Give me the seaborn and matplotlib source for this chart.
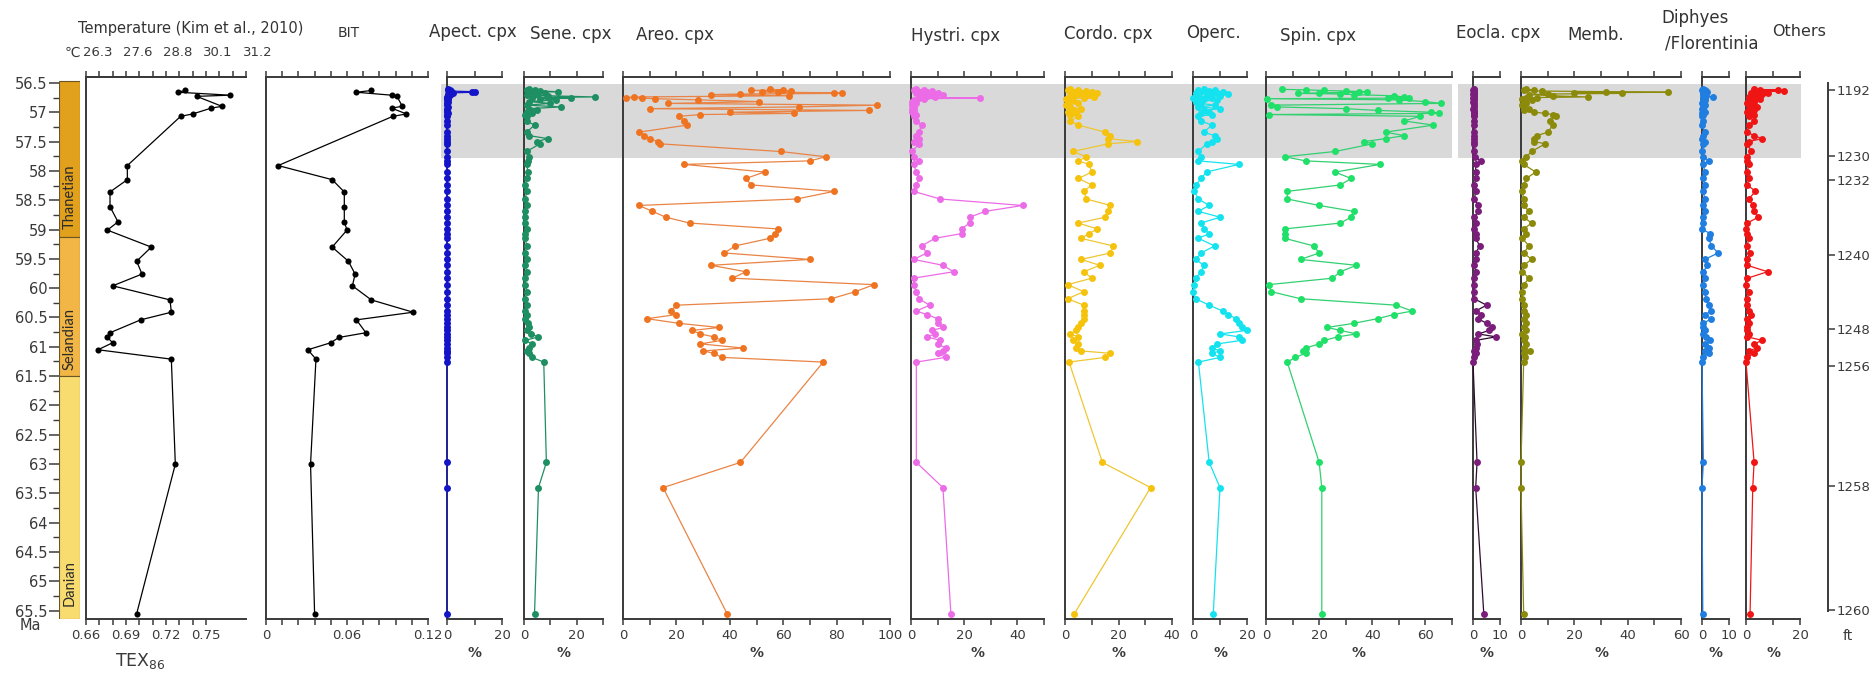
import matplotlib
matplotlib.use("Agg")
import matplotlib.pyplot as plt
import seaborn as sns
from matplotlib.patches import Rectangle
from matplotlib.transforms import blended_transform_factory
from matplotlib.ticker import FixedLocator, MultipleLocator, FuncFormatter, NullFormatter

sns.set_theme(style="ticks")
plt.rcParams["font.family"] = ["DejaVu Sans"]

# ---------------- data ----------------
# GDGT samples (age in Ma)
gdgt_age = [56.63, 56.66, 56.71, 56.73, 56.90, 56.93, 57.03, 57.07, 57.91, 58.15,
            58.36, 58.61, 58.87, 59.01, 59.30, 59.54, 59.76, 59.96, 60.20, 60.41,
            60.54, 60.76, 60.84, 60.93, 61.05, 61.21, 63.00, 65.55]
tex86 = [0.734, 0.729, 0.768, 0.743, 0.762, 0.754, 0.740, 0.731, 0.691, 0.691,
         0.678, 0.678, 0.684, 0.676, 0.709, 0.698, 0.702, 0.680, 0.723, 0.724,
         0.701, 0.678, 0.676, 0.680, 0.669, 0.724, 0.727, 0.698]
bit = [0.078, 0.067, 0.093, 0.097, 0.101, 0.093, 0.104, 0.094, 0.009, 0.049,
       0.058, 0.058, 0.058, 0.060, 0.049, 0.061, 0.066, 0.064, 0.078, 0.109,
       0.067, 0.074, 0.054, 0.048, 0.031, 0.037, 0.033, 0.036]

# Dinocyst samples (age in Ma)
cyst_age = [56.61, 56.62, 56.63, 56.64, 56.65, 56.66, 56.67, 56.68, 56.69, 56.70,
            56.72, 56.74, 56.75, 56.76, 56.77, 56.79, 56.82, 56.85, 56.88, 56.91,
            56.94, 56.97, 57.00, 57.02, 57.04, 57.07,
            57.15, 57.22, 57.34, 57.40, 57.45, 57.50, 57.54, 57.67, 57.76,
            57.83, 57.89, 58.02, 58.13, 58.24, 58.35, 58.48, 58.59, 58.69, 58.79,
            58.89, 58.99, 59.07, 59.15, 59.28, 59.40, 59.51, 59.61, 59.72, 59.83,
            59.94, 60.06, 60.18, 60.29, 60.39, 60.45, 60.52, 60.60, 60.67, 60.72,
            60.78, 60.83, 60.89, 60.95, 61.02, 61.07, 61.11, 61.18, 61.26,
            62.97, 63.40, 65.55]

apect = [0.5, 1, 0.5, 1.5, 9, 10, 2, 1, 0.5, 1, 0.5, 0, 0.5, 0, 0.5, 0, 0.5, 0, 0, 0.5,
         0, 0, 0, 0.5, 0, 0,
         0, 0, 0, 0, 0, 0, 0, 0, 0,
         0, 0, 0, 0, 0, 0, 0, 0, 0, 0, 0, 0, 0, 0, 0, 0, 0, 0, 0, 0,
         0, 0, 0, 0, 0, 0, 0, 0, 0, 0, 0, 0, 0, 0, 0, 0, 0, 0, 0, 0, 0, 0]
sene = [2, 4, 1, 6, 13, 3, 8, 2, 5, 1, 9, 27, 3, 18, 6, 12, 2, 10, 1, 14,
        2, 5, 1, 3, 0.5, 1,
        1, 4, 1, 2, 9, 5, 6, 1, 2,
        1.5, 1, 1.5, 1, 0.5, 1, 0.5, 1, 0.5, 0.5, 0.5, 1, 0.5, 0.5, 1, 0.5, 1, 0.5, 1, 0.5,
        0.5, 1, 0.5, 1, 0.5, 1, 0.5, 1.5, 2, 1, 2.5, 5.5, 0.5, 3, 2, 1, 2, 3, 7.5, 8.5, 5.5, 4]
areo = [55, 60, 48, 63, 52, 58, 82, 79, 44, 33, 62, 4, 1, 7, 12, 28, 51, 17, 95, 66,
        10, 92, 40, 64, 29, 21,
        23, 24, 6, 8, 10, 13, 14, 59, 76,
        70, 23, 53, 46, 48, 79, 65, 6, 11, 16, 25, 58, 57, 55, 42, 38, 70, 33, 46, 41,
        94, 87, 78, 20, 18, 20, 9, 21, 36, 26, 29, 34, 37, 29, 45, 30, 34, 37, 75, 44, 15, 39]
hystri = [2, 5, 1, 8, 3, 6, 2, 10, 4, 12, 6, 9, 3, 26, 5, 1, 0.5, 2, 0.5, 1,
          0.5, 1, 0.5, 1, 2, 1,
          2, 4, 3, 2, 3, 1, 3, 0.5, 1,
          3, 1, 2, 3, 2, 1, 11, 42, 28, 22, 22, 19, 19, 9, 4, 6, 1, 12, 16, 1,
          1, 2, 3, 7, 2, 6, 10, 10, 12, 8, 9, 6, 11, 10, 13, 12, 10, 13, 2, 2, 12, 15]
cordo = [2, 5, 1, 8, 3, 10, 6, 12, 4, 9, 2, 11, 1, 7, 0.5, 3, 1, 5, 0.5, 2,
         6, 3, 1, 4, 2, 5,
         2, 5, 15, 17, 16, 27, 16, 3, 8,
         5, 9, 10, 5, 10, 7, 8, 17, 16, 15, 5, 12, 9, 6, 18, 17, 6, 13, 7, 10,
         1, 7, 1, 7, 7, 7, 7, 6, 5, 4, 2, 5, 3, 5, 4, 6, 17, 15, 1.5, 14, 32, 3.5]
operc = [4, 8, 2, 6, 11, 3, 9, 1, 13, 5, 10, 2, 0, 7, 4, 9, 1, 3, 8, 2,
         10, 4, 6, 3, 7, 2,
         3, 7, 4, 8, 9, 7, 5, 2, 3,
         2, 17, 5, 3, 1, 0.5, 2, 6, 2, 10, 3, 4, 6, 2, 8, 3, 1, 4, 3, 1,
         0.5, 0, 1, 6, 11, 13, 16, 17, 18, 20, 10, 17, 18, 9, 7, 10, 7, 10, 2, 6, 10, 7.5]
spin = [6, 15, 22, 30, 38, 35, 20, 12, 28, 33, 48, 52, 46, 54, 0.5, 50, 60, 66, 2, 4,
        30, 42, 62, 65, 1, 58,
        52, 63, 45, 52, 45, 37, 40, 26, 7,
        15, 43, 26, 32, 28, 8, 8, 20, 33, 32, 28, 7, 7, 7, 18, 20, 13, 34, 28, 25,
        1, 2, 13, 49, 55, 48, 42, 33, 23, 28, 34, 27, 22, 20, 15, 14, 15, 11, 8, 20, 21, 21]
eocla = [0.2, 0.3, 0, 0.2, 0.3, 0.2, 0.4, 0.2, 0, 0.3, 0.2, 0.3, 0, 0.2, 0.3, 0.2, 0, 0.3, 0.2, 0.3,
         0, 0.2, 0.3, 0.2, 0.3, 0.2,
         0.3, 0.2, 0.4, 0.2, 0.3, 0.5, 0.3, 0.4, 0.6,
         3, 1, 1, 1, 0.5, 1, 0.5, 2, 2, 0.5, 1, 0.5, 1, 1, 2.5, 1, 1, 0.5, 1, 0.5,
         0.5, 0.5, 0.5, 5, 1, 3, 2, 5, 7, 6, 2, 8.5, 1, 1.5, 1, 0.5, 1, 0.5, 0, 1.5, 1, 4]
memb = [2, 5, 1, 8, 32, 55, 20, 38, 10, 3, 12, 25, 6, 2, 0.5, 4, 1, 2, 0.5, 1,
        3, 1, 5, 9, 12, 13,
        11, 12, 10, 6, 5, 5, 9, 4, 2,
        0.5, 1, 5.5, 2, 1, 0.5, 1, 1, 3, 1, 4, 1, 2, 0.5, 3, 1, 4, 1, 0.5, 3,
        1, 0.5, 0.5, 1, 1, 2, 1, 2, 1, 2, 0.5, 1.5, 1, 2, 1, 3.5, 1, 1.5, 1, 0, 0, 1]
diphyes = [0.5, 1, 0, 1.5, 0.5, 2, 1, 0.5, 1.5, 0.5, 1, 4, 0.5, 1, 0.5, 1, 0.5, 0, 1, 0.5,
           0, 0.5, 1, 0, 0.5, 0,
           0.5, 0, 1, 0.5, 0, 1, 0.5, 0, 0.5,
           2.5, 0.5, 1, 0.5, 1, 0.5, 1, 0.5, 1, 0.5, 0.5, 0, 3, 2.5, 3.5, 6, 1, 2, 0.5, 1,
           0.5, 1, 1.5, 2.5, 3.5, 1, 3.5, 0.5, 0.5, 1, 0.5, 1.5, 3, 1, 2.5, 1, 2.5, 0.5, 0, 0.5, 0, 0.3]
others = [3, 12, 5, 14, 7, 4, 8, 2, 6, 3, 5, 1, 4, 2, 5, 1, 3, 0.5, 2, 4,
          1, 3, 0.5, 2, 3, 1,
          3, 1, 0.5, 3, 6, 1, 0.5, 2, 0.5,
          0.5, 1, 0.5, 1, 0.5, 3.5, 1, 2.5, 3, 4.5, 0.5, 0, 0.5, 1, 0.5, 1.5, 0.5, 0.5, 8, 0.5,
          0, 1, 0.5, 0.5, 1, 2, 0.5, 1, 0.5, 0.5, 1, 0.5, 6, 3, 4, 1, 3, 0.5, 0, 3, 2.5, 1.5]

stage_names = ["Thanetian", "Selandian", "Danian"]
stage_top = [56.47, 59.13, 61.50]
stage_base = [59.13, 61.50, 65.64]
stage_label_age = [58.44, 60.87, 65.02]

tex_ticks = [0.66, 0.69, 0.72, 0.75]
temp_ticks = [0.66, 0.69, 0.72, 0.75, 0.78]
temp_labels = ["26.3", "27.6", "28.8", "30.1", "31.2"]

ft_labels = [1192, 1230, 1232, 1240, 1248, 1256, 1258, 1260]
ft_age = [56.62, 57.75, 58.15, 59.44, 60.70, 61.32, 63.38, 65.48]

petm_top, petm_base = 56.52, 57.78   # shaded interval

# ---------------- layout ----------------
W, H = 1876, 676
fig = plt.figure(figsize=(W / 100, H / 100), dpi=100)
fig.patch.set_facecolor("white")
Y0, Y1 = 77, 619
YLIM = (65.64, 56.40)
INK = "#3a3a3a"


def fx(px):
    return px / W


def fy(py):
    return 1 - py / H


def panel(x0, x1):
    ax = fig.add_axes([fx(x0), fy(Y1), (x1 - x0) / W, (Y1 - Y0) / H])
    ax.set_facecolor("none")
    for s in ("left", "top", "bottom"):
        ax.spines[s].set_visible(True)
        ax.spines[s].set_color(INK)
        ax.spines[s].set_linewidth(1.4)
    ax.spines["right"].set_visible(False)
    ax.tick_params(axis="x", which="both", top=True, bottom=True, direction="out",
                   length=4.5, width=1.1, color=INK, labelsize=9.5,
                   labelcolor=INK, pad=3)
    ax.tick_params(axis="y", which="both", left=False, right=False,
                   labelleft=False)
    return ax


def trace(ax, x, y, color, line=None, ms=4.3):
    sns.lineplot(x=x, y=y, ax=ax, sort=False, estimator=None,
                 color=line or color, lw=0.9, marker="o", markersize=ms,
                 markerfacecolor=color, markeredgewidth=0, clip_on=False,
                 legend=False, zorder=3)
    ax.set_xlabel("")
    ax.set_ylabel("")
    ax.set_ylim(*YLIM)


def title(px, py, text, size=12):
    fig.text(fx(px), fy(py), text, ha="center", va="center", fontsize=size,
             color="#333333")


# ---- stage column with the age axis ----
ax_st = fig.add_axes([fx(59), fy(Y1), 21 / W, (Y1 - Y0) / H])
ax_st.set_facecolor("none")
ax_st.set_xlim(0, 1)
ax_st.set_ylim(*YLIM)
stage_colors = ["#e2a11c", "#f1b645", "#f9dc70"]
for nm, t, b, c, ly in zip(stage_names, stage_top, stage_base, stage_colors,
                           stage_label_age):
    ax_st.add_patch(Rectangle((0, t), 1, b - t, facecolor=c,
                              edgecolor="#6b5522", lw=0.8))
    ax_st.text(0.5, ly, nm, rotation=90, ha="center", va="center",
               fontsize=10.5, family=["Lato", "DejaVu Sans"], color="#2b2b2b")
for s in ax_st.spines.values():
    s.set_visible(False)
ax_st.set_xticks([])
ax_st.yaxis.set_major_locator(MultipleLocator(0.5))
ax_st.yaxis.set_minor_locator(MultipleLocator(0.25))
ax_st.yaxis.set_major_formatter(FuncFormatter(lambda v, p: f"{v:g}"))
ax_st.tick_params(axis="y", which="major", left=True, length=7, width=1.1,
                  color=INK, pad=1.5, labelsize=10.5, labelcolor=INK)
ax_st.tick_params(axis="y", which="minor", left=True, length=4, width=1.0,
                  color=INK)
fig.text(fx(30), fy(626), "Ma", ha="center", va="center", fontsize=10.5,
         color=INK)

# ---- TEX86 / temperature ----
ax_tex = panel(86, 246)
trace(ax_tex, tex86, gdgt_age, "black", ms=4.4)
ax_tex.set_xlim(0.66, 0.78)
ax_tex.tick_params(axis="x", which="both", top=False)
ax_tex.xaxis.set_major_locator(FixedLocator(tex_ticks))
ax_tex.xaxis.set_minor_locator(FixedLocator([0.67, 0.68, 0.70, 0.71, 0.73, 0.74]))
ax_tex.xaxis.set_major_formatter(FuncFormatter(lambda v, p: f"{v:.2f}"))
sec = ax_tex.secondary_xaxis("top")
sec.xaxis.set_major_locator(FixedLocator(temp_ticks))
sec.xaxis.set_minor_locator(MultipleLocator(0.01))
sec.xaxis.set_major_formatter(NullFormatter())
sec.tick_params(axis="x", which="both", direction="out", length=4.5, width=1.1,
                color=INK)
sec.spines["top"].set_color(INK)
sec.spines["top"].set_linewidth(1.4)
lab_tr = blended_transform_factory(ax_tex.transData, ax_tex.transAxes)
for tv, tl in zip(temp_ticks, temp_labels):
    ax_tex.text(tv - 0.0025, (Y1 - 53) / (Y1 - Y0), tl, transform=lab_tr,
                ha="left", va="center", fontsize=9.5, color=INK)
fig.text(fx(80), fy(53), "\u2103", ha="right", va="center", fontsize=10,
         color=INK)
fig.text(fx(140), fy(661), r"TEX$_{\mathregular{86}}$", ha="center",
         va="center", fontsize=12.5, color=INK)
title(191, 28, "Temperature (Kim et al., 2010)", 10.5)

# ---- BIT ----
ax_bit = panel(266, 428)
trace(ax_bit, bit, gdgt_age, "black", ms=4.4)
ax_bit.set_xlim(0, 0.12)
ax_bit.xaxis.set_major_locator(FixedLocator([0, 0.06, 0.12]))
ax_bit.xaxis.set_minor_locator(FixedLocator([0.012 * i for i in range(11)]))
ax_bit.xaxis.set_major_formatter(FuncFormatter(lambda v, p: f"{v:g}"))
title(349, 33, "BIT", 10)

# ---- dinocyst panels ----
panels = [
    ("Apect. cpx", apect, "#1414c8", None, 447, 502, 20, 20, (473, 32)),
    ("Sene. cpx", sene, "#1e8f62", None, 524, 603, 30, 20, (571, 34)),
    ("Areo. cpx", areo, "#ef7422", "#e98446", 623, 890, 100, 20, (675, 35)),
    ("Hystri. cpx", hystri, "#ec6be6", None, 911, 1044, 50, 20, (956, 36)),
    ("Cordo. cpx", cordo, "#f5c20c", "#eec633", 1065, 1172, 40, 20, (1108, 34)),
    ("Operc.", operc, "#14e3ef", None, 1193, 1247, 20, 20, (1213, 33)),
    ("Spin. cpx", spin, "#1fe068", "#32d070", 1266, 1452, 70, 20, (1318, 36)),
    ("Eocla. cpx", eocla, "#7b1d7b", "#2e0b2e", 1473, 1500, 10, 10, (1498, 33)),
    ("Memb.", memb, "#8c8a0a", None, 1521, 1681, 60, 20, (1596, 35)),
    ("Diphyes/Florentinia", diphyes, "#1f7ee0", None, 1702, 1729, 10, 10, None),
    ("Others", others, "#f01515", None, 1746, 1800, 20, 20, (1799, 32)),
]

ref_ax = None
for name, vals, col, lcol, x0, x1, xmax, lstep, tpos in panels:
    ax = panel(x0, x1)
    trace(ax, vals, cyst_age, col, line=lcol, ms=5.0)
    ax.set_xlim(0, xmax)
    ax.xaxis.set_major_locator(MultipleLocator(lstep))
    ax.xaxis.set_minor_locator(MultipleLocator(10))
    ax.xaxis.set_major_formatter(FuncFormatter(lambda v, p: f"{v:g}"))
    ax.set_xlabel("%", fontsize=10, fontweight="bold", color=INK, labelpad=2.5)
    if tpos is not None:
        title(tpos[0], tpos[1], name, 11.5 if name == "Others" else 12)
    if ref_ax is None:
        ref_ax = ax

title(1695, 18, "Diphyes", 12)
title(1712, 43, "/Florentinia", 12)

# ---- shaded interval spanning the dinocyst panels ----
band_tr = blended_transform_factory(fig.transFigure, ref_ax.transData)
for bx0, bx1 in [(441, 1452), (1458, 1801)]:
    fig.add_artist(Rectangle((fx(bx0), petm_top), (bx1 - bx0) / W,
                             petm_base - petm_top, transform=band_tr,
                             facecolor="#d9d9d9", edgecolor="none", zorder=-5))

# ---- depth scale (ft) ----
ax_ft = fig.add_axes([fx(1818), fy(Y1), 10 / W, (Y1 - Y0) / H])
ax_ft.set_facecolor("none")
ax_ft.set_ylim(*YLIM)
for s in ("left", "top", "bottom"):
    ax_ft.spines[s].set_visible(False)
ax_ft.spines["right"].set_color(INK)
ax_ft.spines["right"].set_linewidth(1.4)
ax_ft.spines["right"].set_bounds(56.5, 65.5)
ax_ft.set_xticks([])
ax_ft.yaxis.tick_right()
ax_ft.set_yticks(ft_age, labels=[str(v) for v in ft_labels])
ax_ft.tick_params(axis="y", length=5, width=1.1, color=INK, pad=1.5,
                  labelsize=9.5, labelcolor=INK)
fig.text(fx(1848), fy(636), "ft", ha="center", va="center", fontsize=10,
         color=INK)

fig.savefig("out.png", dpi=100, facecolor="white")
